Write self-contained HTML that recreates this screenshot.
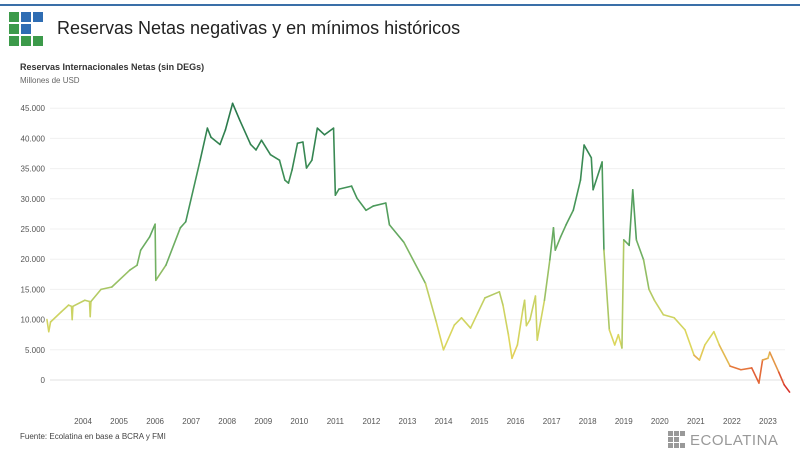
<!DOCTYPE html>
<html><head><meta charset="utf-8">
<style>
body{margin:0;width:800px;height:456px;background:#fff;font-family:"Liberation Sans",sans-serif;overflow:hidden;position:relative}
.abs{position:absolute}
</style></head>
<body>
<div class="abs" style="left:0;top:4px;width:800px;height:2px;background:#3a6fa8"></div>
<svg class="abs" style="left:9px;top:12px" width="36" height="36">
<rect x="0" y="0" width="10" height="10" fill="#3c9a4a"/><rect x="12" y="0" width="10" height="10" fill="#2f6db3"/><rect x="24" y="0" width="10" height="10" fill="#2f6db3"/>
<rect x="0" y="12" width="10" height="10" fill="#3c9a4a"/><rect x="12" y="12" width="10" height="10" fill="#2f6db3"/>
<rect x="0" y="24" width="10" height="10" fill="#3c9a4a"/><rect x="12" y="24" width="10" height="10" fill="#3c9a4a"/><rect x="24" y="24" width="10" height="10" fill="#3c9a4a"/>
</svg>
<div class="abs" style="left:57px;top:18px;font-size:18px;color:#222">Reservas Netas negativas y en mínimos históricos</div>
<div class="abs" style="left:20px;top:62px;font-size:9px;font-weight:bold;color:#333">Reservas Internacionales Netas (sin DEGs)</div>
<div class="abs" style="left:20px;top:76px;font-size:8px;color:#666">Millones de USD</div>
<svg id="chart" class="abs" style="left:0;top:0" width="800" height="456"></svg>
<div class="abs" style="left:20px;top:432px;font-size:8px;color:#444">Fuente: Ecolatina en base a BCRA y FMI</div>
<svg class="abs" style="left:668px;top:431px" width="18" height="18">
<g fill="#999"><rect x="0" y="0" width="5" height="5"/><rect x="6" y="0" width="5" height="5"/><rect x="12" y="0" width="5" height="5"/><rect x="0" y="6" width="5" height="5"/><rect x="6" y="6" width="5" height="5"/><rect x="0" y="12" width="5" height="5"/><rect x="6" y="12" width="5" height="5"/><rect x="12" y="12" width="5" height="5"/></g></svg>
<div class="abs" style="left:690px;top:432px;font-size:15px;color:#999;letter-spacing:0.5px">ECOLATINA</div>
<script>
const yTicks=[0,5000,10000,15000,20000,25000,30000,35000,40000,45000];
const yTickLabels=["0","5.000","10.000","15.000","20.000","25.000","30.000","35.000","40.000","45.000"];
const years=[2004,2005,2006,2007,2008,2009,2010,2011,2012,2013,2014,2015,2016,2017,2018,2019,2020,2021,2022,2023];
const dates=[2003.0,2003.05,2003.1,2003.4,2003.6,2003.68,2003.7,2003.72,2004.05,2004.18,2004.2,2004.22,2004.5,2004.8,2005.3,2005.5,2005.6,2005.85,2006.0,2006.02,2006.3,2006.7,2006.85,2007.25,2007.45,2007.55,2007.8,2007.95,2008.15,2008.35,2008.65,2008.8,2008.95,2009.2,2009.45,2009.6,2009.7,2009.8,2009.95,2010.1,2010.2,2010.35,2010.5,2010.7,2010.95,2011.0,2011.1,2011.45,2011.6,2011.85,2012.05,2012.4,2012.5,2012.9,2013.5,2013.8,2014.0,2014.3,2014.5,2014.75,2014.95,2015.15,2015.55,2015.65,2015.8,2015.9,2016.05,2016.2,2016.25,2016.3,2016.4,2016.55,2016.6,2016.8,2016.95,2017.05,2017.1,2017.25,2017.4,2017.6,2017.8,2017.9,2018.1,2018.15,2018.4,2018.45,2018.6,2018.75,2018.85,2018.95,2019.0,2019.15,2019.25,2019.35,2019.55,2019.7,2019.85,2020.1,2020.4,2020.7,2020.95,2021.1,2021.25,2021.5,2021.65,2021.95,2022.25,2022.55,2022.75,2022.85,2023.0,2023.05,2023.3,2023.45,2023.6];
const values=[10000,8000,9600,11300,12400,12200,10000,12200,13200,13000,10500,13000,15000,15400,18200,19000,21500,23700,25800,16500,19000,25200,26200,36400,41700,40200,39000,41400,45800,43000,39000,38100,39700,37300,36400,33100,32600,34800,39200,39400,35100,36400,41700,40600,41700,30600,31600,32100,30100,28100,28800,29300,25700,22800,16000,9600,5000,9100,10300,8600,11100,13600,14600,12400,7500,3600,5800,11600,13200,9000,10000,13900,6600,13200,19900,25200,21500,23700,25700,28100,33100,38900,36800,31500,36100,21500,8300,5800,7500,5300,23200,22300,31500,23200,19900,15000,13200,10800,10300,8300,4100,3300,5800,8000,5800,2300,1700,2000,-500,3300,3600,4600,1300,-800,-2000];
const NS="http://www.w3.org/2000/svg";
const svg=document.getElementById('chart');
const X=y=>83+(y-2004)*36.05;
const Y=v=>380-v/10000*60.4;
function mk(t,a){const e=document.createElementNS(NS,t);for(const k in a)e.setAttribute(k,a[k]);svg.appendChild(e);return e;}
yTicks.forEach((t,i)=>{
 const g=mk('line',{x1:50,x2:785,y1:Y(t),y2:Y(t),stroke:t===0?'#e2e2e2':'#f0f0f0','stroke-width':1});
 
 
 const l=mk('text',{x:45,y:Y(t)+3,'text-anchor':'end','font-size':8,fill:'#555','font-family':'Liberation Sans, sans-serif'});
 l.textContent=yTickLabels[i];
 
 
});
years.forEach(yr=>{
 const l=mk('text',{x:X(yr),y:424,'text-anchor':'middle','font-size':8,fill:'#555','font-family':'Liberation Sans, sans-serif'});
 l.textContent=yr;
 
 
});
function col(v){
 const stops=[[-2000,[214,40,40]],[2000,[230,120,60]],[5000,[225,215,90]],[12000,[200,210,100]],[20000,[120,180,100]],[30000,[70,150,90]],[45000,[40,120,75]]];
 if(v<=stops[0][0])return 'rgb('+stops[0][1]+')';
 for(let i=1;i<stops.length;i++){if(v<=stops[i][0]){const a=stops[i-1],b=stops[i],t=(v-a[0])/(b[0]-a[0]);return 'rgb('+a[1].map((c,j)=>Math.round(c+(b[1][j]-c)*t)).join(',')+')';}}
 return 'rgb('+stops[stops.length-1][1]+')';
}
for(let i=1;i<dates.length;i++){
 const s=mk('line',{x1:X(dates[i-1]),y1:Y(values[i-1]),x2:X(dates[i]),y2:Y(values[i]),stroke:col((values[i-1]+values[i])/2),'stroke-width':1.6,'stroke-linecap':'round'});
 
 
}
</script>
</body></html>
